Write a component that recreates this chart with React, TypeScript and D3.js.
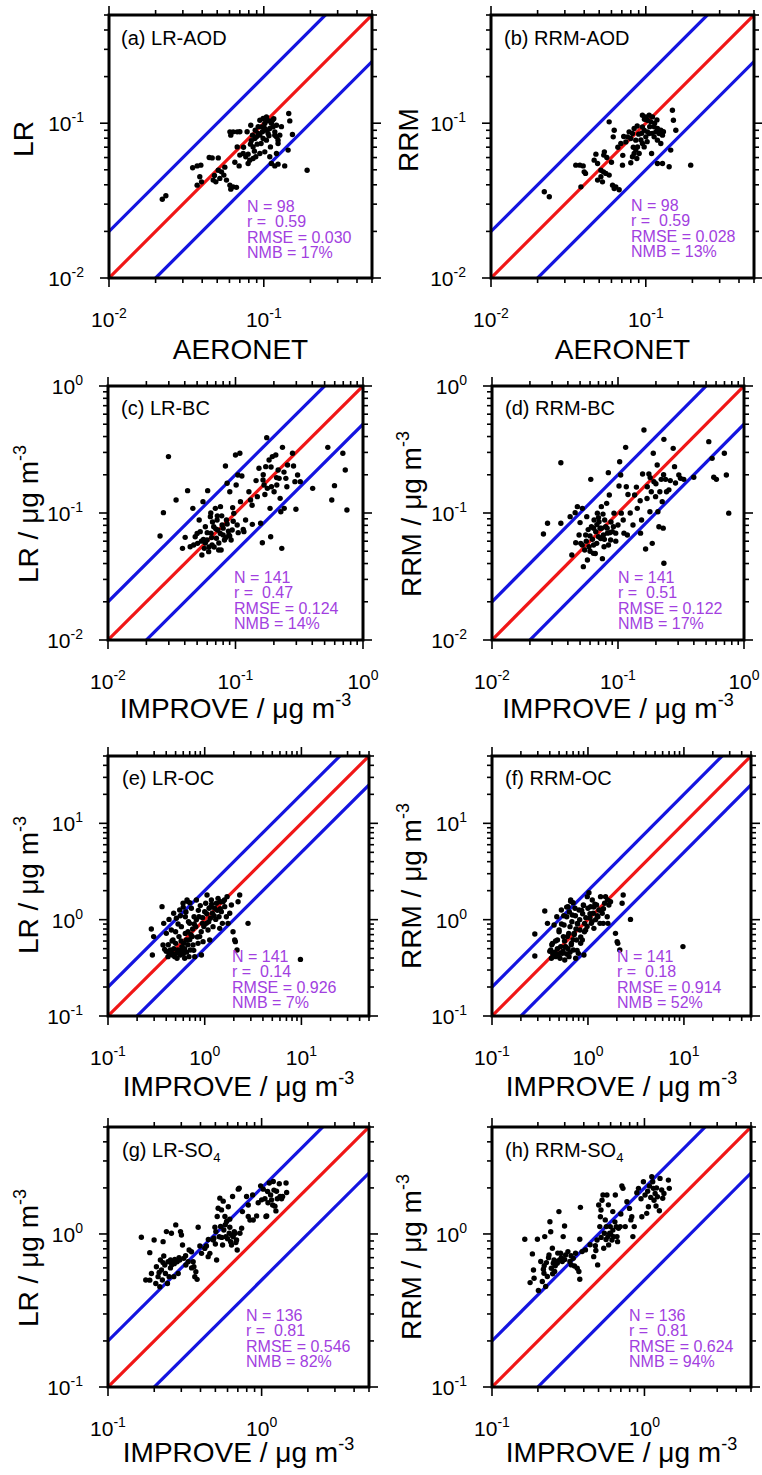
import React from 'react';
import * as d3 from 'd3';

type Pt = [number, number];

// ---------------- DATA ----------------
const ptsA: Pt[] = [
  [0.0221,0.0323],[0.0233,0.034],[0.0347,0.0515],[0.0371,0.053],[0.0392,0.0536],
  [0.0386,0.0451],[0.0396,0.0418],[0.0371,0.0398],[0.0444,0.06],[0.0464,0.0597],[0.0508,0.0597],
  [0.0471,0.0429],[0.049,0.0418],[0.052,0.044],[0.0508,0.0497],[0.0533,0.0485],[0.0552,0.0462],[0.0574,0.0429],
  [0.0604,0.0398],[0.0634,0.0388],[0.0666,0.0385],[0.0612,0.0375],
  [0.0604,0.0879],[0.0634,0.0879],[0.0673,0.0879],[0.0612,0.0837],[0.0673,0.0703],
  [0.07,0.0622],[0.0736,0.0637],[0.0765,0.0607],[0.0792,0.0631],[0.0693,0.053],
  [0.0824,0.097],[0.082,0.0732],[0.0853,0.0703],[0.0845,0.0837],[0.0875,0.0796],[0.0897,0.0816],[0.0919,0.0858],
  [0.0812,0.0577],[0.0792,0.0549],[0.0853,0.0592],[0.0888,0.0607],[0.0906,0.0732],
  [0.0943,0.1045],[0.099,0.1072],[0.104,0.1098],[0.1015,0.0995],[0.0966,0.0947],[0.104,0.0901],[0.1093,0.0924],
  [0.1066,0.0858],[0.1149,0.0947],[0.1178,0.0879],[0.1207,0.097],[0.1138,0.1045],[0.1066,0.1035],
  [0.0943,0.0837],[0.099,0.0796],[0.104,0.0777],[0.1104,0.0703],[0.1015,0.0653],[0.0943,0.0637],
  [0.1178,0.0837],[0.1207,0.0816],[0.1236,0.0777],[0.1268,0.0837],
  [0.1093,0.0607],[0.1119,0.0549],[0.1178,0.053],[0.1236,0.0544],[0.1365,0.053],
  [0.1207,0.0637],[0.1236,0.0739],[0.1449,0.1154],[0.1472,0.1035],[0.1531,0.0845],[0.1436,0.067],
  [0.1905,0.0497],
  [0.098,0.088],[0.101,0.093],[0.112,0.1],[0.088,0.09],[0.092,0.095],[0.108,0.083],[0.096,0.074],
  [0.087,0.066],[0.074,0.07],[0.065,0.056],[0.056,0.052],[0.083,0.077],[0.116,0.107],[0.105,0.105],
  [0.078,0.088],[0.07,0.088],[0.13,0.095],[0.048,0.046],
];

const ptsB: Pt[] = [
  [0.0221,0.0361],[0.0238,0.0335],[0.0353,0.0536],[0.0375,0.0536],[0.0394,0.053],
  [0.04,0.0485],[0.0408,0.0474],[0.0381,0.0388],[0.0464,0.0577],[0.0476,0.0631],[0.0488,0.0549],
  [0.0513,0.0497],[0.0533,0.0485],[0.0552,0.0474],[0.0513,0.0451],[0.0488,0.0429],[0.0525,0.0418],[0.058,0.0462],
  [0.0535,0.0622],[0.054,0.0653],[0.0625,0.0901],[0.0616,0.0816],[0.058,0.102],[0.0707,0.0536],
  [0.061,0.0398],[0.064,0.0388],[0.0673,0.0372],[0.0625,0.0378],[0.069,0.0739],[0.0743,0.0757],
  [0.078,0.0879],[0.082,0.0858],[0.0841,0.0924],[0.0762,0.0816],[0.08,0.0796],[0.0862,0.0777],
  [0.082,0.0607],[0.0841,0.0637],[0.0862,0.067],[0.0884,0.0703],[0.0906,0.0637],[0.0875,0.0592],[0.08,0.0555],
  [0.0951,0.0947],[0.0976,0.0901],[0.1025,0.0879],[0.1,0.0816],[0.1051,0.0858],[0.0951,0.0739],[0.0976,0.0703],
  [0.0951,0.1126],[0.1,0.1098],[0.1051,0.1126],[0.1104,0.1098],[0.1025,0.1045],[0.1077,0.102],
  [0.1132,0.0947],[0.1161,0.0879],[0.1189,0.0924],[0.1219,0.0858],[0.125,0.0901],[0.1132,0.0816],
  [0.1189,0.0777],[0.125,0.0739],[0.1282,0.0837],[0.109,0.0637],
  [0.1189,0.0549],[0.1282,0.0549],[0.1415,0.0523],
  [0.1486,0.1213],[0.1508,0.1045],[0.1563,0.0901],[0.1449,0.067],[0.195,0.0536],
  [0.09,0.085],[0.093,0.078],[0.106,0.095],[0.11,0.086],[0.088,0.096],[0.072,0.082],[0.066,0.07],
  [0.06,0.056],[0.056,0.06],[0.114,0.1],[0.098,0.106],[0.102,0.076],[0.118,0.105],[0.083,0.07],
  [0.071,0.062],[0.094,0.086],[0.13,0.088],
];

const ptsC: Pt[] = [
  [0.0256,0.0659],[0.0272,0.1006],[0.0298,0.278],[0.0342,0.1265],[0.0384,0.0527],[0.0403,0.0643],
  [0.0421,0.15],[0.0441,0.0543],[0.0463,0.1088],[0.0483,0.0651],[0.0504,0.0577],[0.0519,0.0881],
  [0.0529,0.0713],[0.0545,0.0467],[0.0556,0.1228],[0.0569,0.0527],[0.058,0.078],[0.0605,0.15],
  [0.0598,0.0613],[0.0616,0.0496],[0.0635,0.0936],[0.0643,0.0692],[0.0655,0.056],[0.0675,0.078],
  [0.0695,0.1088],[0.0708,0.0632],[0.0717,0.0881],[0.0726,0.0735],[0.0738,0.0511],[0.0762,0.1122],
  [0.0771,0.0511],[0.0785,0.0805],[0.08,0.0671],[0.0819,0.0613],[0.0834,0.2344],[0.0849,0.0881],
  [0.0859,0.1713],[0.0886,0.0671],[0.0902,0.1472],[0.0924,0.0613],[0.0942,0.0735],[0.097,0.0994],
  [0.1,0.2864],[0.1012,0.166],[0.1031,0.0805],[0.1043,0.199],[0.1082,0.2951],[0.1094,0.1228],
  [0.1122,0.1955],[0.115,0.0743],[0.1164,0.0713],[0.1274,0.1472],[0.1313,0.1265],[0.1355,0.0814],
  [0.1483,0.1345],[0.1528,0.2248],[0.1574,0.083],[0.1624,0.0583],[0.1644,0.182],[0.1675,0.166],
  [0.1726,0.2317],[0.1757,0.392],[0.1778,0.1563],[0.1834,0.2612],[0.1866,0.1088],[0.1888,0.0651],
  [0.1914,0.161],[0.1946,0.278],[0.2007,0.1472],[0.207,0.2864],[0.2108,0.166],[0.216,0.2181],
  [0.2199,0.1875],[0.2239,0.1304],[0.2267,0.1024],[0.2307,0.0527],[0.2335,0.3289],[0.241,0.1088],
  [0.2483,0.1875],[0.2529,0.161],[0.2559,0.2388],[0.28,0.2951],[0.2852,0.2344],[0.2924,0.1766],
  [0.2978,0.107],[0.3069,0.199],[0.3221,0.1766],[0.403,0.1563],[0.5297,0.3289],[0.569,0.1265],
  [0.5977,0.1642],[0.695,0.2951],[0.726,0.2181],[0.748,0.1056],
  [0.056,0.062],[0.06,0.07],[0.065,0.064],[0.07,0.075],[0.074,0.058],[0.076,0.069],[0.08,0.076],
  [0.084,0.064],[0.088,0.072],[0.062,0.054],[0.058,0.058],[0.068,0.054],[0.072,0.095],[0.066,0.085],
  [0.078,0.095],[0.086,0.082],[0.054,0.06],[0.05,0.069],[0.047,0.056],[0.09,0.066],[0.105,0.07],
  [0.096,0.086],[0.12,0.088],[0.145,0.18],[0.17,0.14],[0.21,0.19],[0.24,0.21],[0.19,0.23],
  [0.165,0.2],[0.135,0.115],[0.064,0.1],[0.095,0.11],
];

const ptsD: Pt[] = [
  [0.0256,0.0683],[0.0276,0.083],[0.0352,0.083],[0.0352,0.249],[0.0417,0.0936],[0.043,0.0467],
  [0.0457,0.1006],[0.0462,0.0583],[0.0476,0.1122],[0.0491,0.0671],[0.0506,0.0577],[0.0521,0.1088],
  [0.0531,0.0378],[0.0544,0.0511],[0.0554,0.0671],[0.0565,0.0936],[0.0572,0.0427],[0.0589,0.0543],
  [0.0608,0.1841],[0.0615,0.078],[0.0627,0.062],[0.0638,0.0481],[0.0646,0.0881],[0.0666,0.0713],
  [0.0678,0.0577],[0.0686,0.0997],[0.0707,0.0853],[0.072,0.076],[0.0729,0.063],[0.0738,0.1122],
  [0.0752,0.0437],[0.0766,0.0671],[0.0775,0.0543],[0.0784,0.0881],[0.0798,0.078],[0.0813,0.1191],
  [0.0824,0.0694],[0.0838,0.2078],[0.0853,0.1386],[0.0874,0.0613],[0.0902,0.0713],[0.0929,0.0997],
  [0.0959,0.0694],[0.1,0.0805],[0.1019,0.163],[0.1031,0.2535],[0.105,0.199],[0.1062,0.0997],
  [0.1115,0.0694],[0.115,0.3289],[0.1164,0.161],[0.1186,0.0671],[0.1315,0.0805],[0.1355,0.1386],
  [0.1422,0.1088],[0.151,0.0694],[0.1538,0.0881],[0.1567,0.2028],[0.1607,0.4505],[0.1656,0.0521],
  [0.1707,0.161],[0.1759,0.2028],[0.1792,0.1024],[0.1837,0.1472],[0.187,0.0577],[0.1905,0.2951],
  [0.1928,0.1766],[0.1987,0.1345],[0.2047,0.2388],[0.2073,0.1024],[0.2112,0.078],[0.2149,0.1472],
  [0.2203,0.1841],[0.2244,0.1228],[0.2285,0.076],[0.2313,0.38],[0.2313,0.0402],[0.2384,0.1841],
  [0.2427,0.1472],[0.2535,0.1522],[0.2742,0.3228],[0.281,0.2317],[0.286,0.1725],[0.3039,0.199],
  [0.3133,0.1875],[0.3327,0.1841],[0.3996,0.1913],[0.5253,0.3646],[0.5585,0.2693],[0.5754,0.1913],
  [0.6039,0.1841],[0.6982,0.2951],[0.7244,0.199],[0.7568,0.0997],
  [0.056,0.06],[0.06,0.066],[0.064,0.056],[0.07,0.065],[0.074,0.076],[0.078,0.062],[0.082,0.076],
  [0.086,0.07],[0.06,0.05],[0.066,0.048],[0.07,0.092],[0.076,0.098],[0.088,0.085],[0.052,0.056],
  [0.058,0.074],[0.068,0.081],[0.096,0.06],[0.11,0.088],[0.14,0.16],[0.17,0.13],[0.2,0.17],
  [0.18,0.19],[0.23,0.2],[0.125,0.1],[0.092,0.078],[0.05,0.084],[0.15,0.125],[0.26,0.18],
  [0.12,0.14],[0.064,0.076],[0.084,0.056],
];

const ptsE: Pt[] = [
  [0.2805,0.8],[0.2877,0.43],[0.2965,0.667],[0.362,1.365],[0.3707,0.546],[0.3767,0.916],[0.3855,0.492],
  [0.401,0.721],[0.4178,0.413],[0.4276,1.007],[0.4416,0.484],[0.4519,0.781],[0.4634,0.43],[0.47,0.615],
  [0.4775,1.164],[0.4898,0.413],[0.5012,0.568],[0.5093,1.033],[0.5175,0.397],[0.5297,0.484],[0.542,0.667],
  [0.5512,1.26],[0.56,0.43],[0.574,0.846],[0.5875,0.484],[0.5971,1.478],[0.6067,0.568],[0.6209,0.397],
  [0.631,1.074],[0.6457,0.615],[0.6562,1.6],[0.6722,0.75],[0.6879,0.413],[0.6992,0.916],[0.7106,0.484],
  [0.7277,1.312],[0.7447,0.667],[0.757,0.546],[0.7762,1.074],[0.7889,0.413],[0.8073,0.846],[0.8204,1.6],
  [0.8531,0.568],[0.8733,1.074],[0.8875,0.667],[0.9247,0.43],[0.9462,0.916],[0.9616,0.591],[1.0,1.211],
  [1.024,1.478],[1.04,0.916],[1.057,1.803],[1.082,0.781],[1.109,1.312],[1.127,0.615],[1.145,1.033],
  [1.172,1.6],[1.2,1.164],[1.219,0.846],[1.268,1.312],[1.3,1.007],[1.321,1.478],[1.374,1.665],
  [1.406,1.074],[1.429,0.813],[1.452,1.537],[1.486,1.211],[1.523,0.916],[1.548,1.537],[1.61,1.365],
  [1.675,1.074],[1.702,1.733],[1.742,0.916],[1.815,1.164],[1.888,1.419],[1.963,0.75],[2.042,0.615],
  [2.075,0.591],[2.159,0.484],[2.213,1.537],[2.301,1.803],[2.806,0.916],[9.77,0.387],
  [0.45,0.46],[0.48,0.44],[0.52,0.45],[0.55,0.47],[0.58,0.52],[0.6,0.44],[0.62,0.5],[0.65,0.46],
  [0.67,0.55],[0.7,0.62],[0.72,0.7],[0.75,0.8],[0.68,0.95],[0.64,1.2],[0.6,1.35],[0.56,1.1],
  [0.53,0.9],[0.5,0.75],[0.46,0.6],[0.42,0.55],[0.78,0.9],[0.82,1.0],[0.86,1.25],[0.9,1.4],
  [0.95,1.05],[1.05,1.15],[1.1,0.95],[1.15,1.35],[1.25,1.1],[1.35,1.25],[0.92,0.75],[0.84,0.66],
  [0.7,1.5],[0.66,1.55],[0.48,0.5],[0.43,0.44],[0.57,0.6],[0.63,0.72],[0.77,0.48],[0.98,0.85],
  [1.18,1.45],[1.45,1.3],[1.6,1.6],[0.4,0.47],
];

const ptsF: Pt[] = [
  [0.2794,0.709],[0.2794,0.42],[0.3548,1.23],[0.3784,0.916],[0.4093,0.484],[0.416,0.397],[0.4266,0.568],
  [0.4436,0.881],[0.4613,0.413],[0.4732,1.074],[0.4809,0.615],[0.4887,0.43],[0.5,0.781],[0.5117,0.397],
  [0.52,0.525],[0.5284,1.26],[0.5417,0.447],[0.5546,0.667],[0.5636,0.881],[0.5728,0.381],[0.5861,0.525],
  [0.6012,1.074],[0.6095,0.667],[0.6194,1.365],[0.6353,0.413],[0.6501,0.846],[0.6607,1.6],[0.6714,0.568],
  [0.687,1.117],[0.7047,0.484],[0.7161,0.721],[0.7328,1.312],[0.7447,0.397],[0.7621,0.615],[0.7745,0.916],
  [0.7937,0.447],[0.8073,1.26],[0.826,0.781],[0.8395,0.568],[0.8733,0.615],[0.8954,1.419],[0.9078,0.43],
  [0.9226,0.916],[0.9462,0.781],[0.984,1.733],[1.0,1.312],[1.024,1.905],[1.05,1.04],[1.066,1.365],
  [1.083,0.916],[1.109,1.6],[1.135,1.164],[1.153,0.813],[1.202,1.0],[1.23,1.419],[1.27,1.074],
  [1.3,1.26],[1.334,0.916],[1.353,1.733],[1.409,1.164],[1.443,0.916],[1.49,1.478],[1.525,1.733],
  [1.588,1.074],[1.614,0.916],[1.652,1.419],[1.718,1.537],[1.936,0.721],[2.014,0.591],[2.046,0.568],
  [2.146,0.484],[2.27,1.478],[2.328,1.803],[2.774,1.007],[9.77,0.525],
  [0.45,0.46],[0.48,0.44],[0.52,0.45],[0.55,0.47],[0.58,0.52],[0.6,0.44],[0.62,0.5],[0.65,0.46],
  [0.67,0.55],[0.7,0.62],[0.72,0.7],[0.75,0.8],[0.68,0.95],[0.64,1.2],[0.6,1.35],[0.56,1.1],
  [0.53,0.9],[0.5,0.75],[0.46,0.6],[0.42,0.55],[0.78,0.9],[0.82,1.0],[0.86,1.25],[0.9,1.4],
  [0.95,1.05],[1.05,1.15],[1.1,0.95],[1.15,1.35],[1.25,1.1],[1.35,1.25],[0.92,0.75],[0.84,0.66],
  [0.7,1.5],[0.66,1.55],[0.48,0.5],[0.43,0.44],[0.57,0.6],[0.63,0.72],[0.77,0.48],[0.98,0.85],
  [1.18,1.45],[1.45,1.3],[1.6,1.6],[0.4,0.47],[0.74,1.1],[0.88,1.15],
];

const ptsG: Pt[] = [
  [0.1649,0.951],[0.1761,0.5],[0.187,0.755],[0.187,0.499],[0.1918,0.552],[0.1996,0.914],[0.2047,0.475],
  [0.2066,0.611],[0.2118,0.526],[0.2173,0.452],[0.2193,0.676],[0.2228,0.581],[0.2259,0.5],[0.2284,0.891],
  [0.2307,0.718],[0.2343,0.627],[0.2365,0.552],[0.24,1.036],[0.2438,0.475],[0.2461,0.659],[0.25,0.526],
  [0.2553,0.676],[0.2588,1.01],[0.263,0.659],[0.268,0.526],[0.2723,0.682],[0.2761,1.146],[0.2818,0.659],
  [0.2864,0.552],[0.2931,0.676],[0.2965,1.036],[0.3006,0.985],[0.3055,0.847],[0.3112,0.693],[0.3213,0.627],
  [0.3327,0.659],[0.3373,0.785],[0.3493,0.766],[0.3583,0.659],[0.3624,0.611],[0.3673,0.526],[0.3731,0.566],
  [0.3802,0.505],[0.3864,1.106],[0.3963,0.834],[0.4064,0.747],[0.4266,0.805],[0.4375,0.834],[0.4487,0.711],
  [0.4603,0.747],[0.4842,0.914],[0.4887,0.937],[0.4966,1.106],[0.5035,1.036],[0.5093,0.676],[0.514,1.3],
  [0.5212,1.472],[0.5297,0.96],[0.5346,1.714],[0.5408,1.118],[0.5483,1.436],[0.557,0.847],[0.5623,1.638],
  [0.5675,1.062],[0.5768,1.3],[0.5848,0.96],[0.5916,1.205],[0.6067,1.505],[0.6152,1.01],[0.6209,1.106],
  [0.6281,0.891],[0.6368,0.847],[0.6471,1.756],[0.6531,0.96],[0.6637,1.036],[0.673,1.01],[0.6871,0.914],
  [0.6935,0.785],[0.7047,1.963],[0.7145,1.991],[0.7228,1.01],[0.7413,1.089],[0.798,1.756],[0.8185,1.545],
  [0.8185,1.3],[0.8395,1.235],[0.8738,1.8],[0.8831,1.235],[0.9271,1.312],[0.9854,2.063],[1.0,1.671],
  [1.025,1.963],[1.051,1.7],[1.067,1.3],[1.079,1.312],[1.094,1.893],[1.122,2.151],[1.145,1.8],
  [1.161,1.671],[1.18,1.545],[1.191,2.2],[1.203,1.935],[1.221,1.52],[1.239,1.415],[1.265,1.7],
  [1.303,2.13],[1.318,1.756],[1.349,1.7],[1.37,1.756],[1.442,2.151],[1.455,1.865],
  [0.215,0.56],[0.228,0.65],[0.255,0.6],[0.27,0.64],[0.29,0.7],[0.32,0.72],[0.35,0.6],[0.55,0.95],
  [0.6,0.93],[0.64,0.98],[0.68,0.88],[0.58,1.15],[0.62,1.25],[0.75,1.4],[0.95,1.6],[1.1,1.6],
  [1.25,1.9],[0.5,0.86],[0.45,0.92],[0.26,0.63],
];

const ptsH: Pt[] = [
  [0.1641,0.923],[0.1778,0.481],[0.1841,0.741],[0.1871,0.582],[0.1888,0.514],[0.1986,0.923],[0.2016,0.427],
  [0.2089,0.661],[0.2138,0.489],[0.2173,0.589],[0.2193,0.554],[0.2218,0.961],[0.2249,0.454],[0.2275,0.65],
  [0.2307,0.527],[0.2366,0.729],[0.2399,1.203],[0.2427,1.035],[0.2449,0.597],[0.2489,0.807],[0.2524,0.644],
  [0.2553,0.676],[0.2576,0.568],[0.2612,0.661],[0.268,0.644],[0.2748,1.4],[0.2773,0.676],[0.2818,0.748],
  [0.289,0.661],[0.2931,0.961],[0.2992,1.127],[0.3041,0.729],[0.3148,0.767],[0.3243,0.661],[0.3311,0.628],
  [0.3412,0.693],[0.3475,0.618],[0.3532,0.748],[0.3622,0.597],[0.3715,0.568],[0.3767,0.923],[0.3767,0.506],
  [0.3802,1.493],[0.39,0.767],[0.4102,0.787],[0.4648,0.711],[0.4764,0.837],[0.4887,0.914],[0.4932,0.628],
  [0.5012,1.546],[0.5093,1.117],[0.514,1.297],[0.5188,1.434],[0.5272,1.66],[0.5346,1.796],[0.5408,0.807],
  [0.5458,1.01],[0.5534,1.236],[0.5623,1.117],[0.5675,1.796],[0.5768,0.961],[0.5821,0.848],[0.5916,1.01],
  [0.597,1.117],[0.6124,0.914],[0.6209,1.06],[0.6281,0.961],[0.6442,1.796],[0.6531,1.117],[0.6607,0.961],
  [0.6668,0.891],[0.6761,1.089],[0.6935,1.117],[0.7112,2.056],[0.7228,1.986],[0.7482,1.117],[0.7674,1.625],
  [0.798,1.469],[0.8147,1.236],[0.826,1.297],[0.8395,0.961],[0.857,1.117],[0.8913,1.862],[0.9141,1.986],
  [0.9616,1.297],[0.9847,2.193],[1.009,1.796],[1.035,1.364],[1.062,1.507],[1.079,2.056],[1.1,1.734],
  [1.117,2.366],[1.133,2.193],[1.145,1.986],[1.156,1.66],[1.175,1.841],[1.191,1.523],[1.216,1.752],
  [1.253,1.419],[1.265,2.307],[1.297,1.936],[1.318,1.71],[1.343,1.841],[1.436,2.249],[1.455,1.986],
  [0.22,0.62],[0.235,0.7],[0.26,0.62],[0.285,0.7],[0.3,0.68],[0.33,0.72],[0.52,0.95],[0.56,0.92],
  [0.6,1.0],[0.64,1.2],[0.7,1.35],[0.58,1.55],[0.62,1.4],[0.95,1.7],[1.2,2.0],[1.05,1.9],
  [0.48,0.78],[0.44,0.85],[0.25,0.55],[0.27,0.75],
];

const statsA = ['N = 98', 'r =  0.59', 'RMSE = 0.030', 'NMB = 17%'];
const statsB = ['N = 98', 'r =  0.59', 'RMSE = 0.028', 'NMB = 13%'];
const statsC = ['N = 141', 'r =  0.47', 'RMSE = 0.124', 'NMB = 14%'];
const statsD = ['N = 141', 'r =  0.51', 'RMSE = 0.122', 'NMB = 17%'];
const statsE = ['N = 141', 'r =  0.14', 'RMSE = 0.926', 'NMB = 7%'];
const statsF = ['N = 141', 'r =  0.18', 'RMSE = 0.914', 'NMB = 52%'];
const statsG = ['N = 136', 'r =  0.81', 'RMSE = 0.546', 'NMB = 82%'];
const statsH = ['N = 136', 'r =  0.81', 'RMSE = 0.624', 'NMB = 94%'];

const domainAOD: [number, number] = [0.01, 0.5];
const domainBC: [number, number] = [0.01, 1];
const domainOC: [number, number] = [0.1, 50];
const domainSO4: [number, number] = [0.1, 5];

const ratioFactors = [0.5, 1, 2];

// ---------------- LAYOUT ----------------
const FONT = '"Liberation Sans", Arial, Helvetica, sans-serif';
const PURPLE = '#a23fe0';
const RED = '#f01616';
const BLUE = '#1414e0';
const STAT_DY = 15.4;

interface Cfg {
  tag: string; name: string; sub?: string;
  ylab: string; yUnits: boolean; xlab: string; xUnits: boolean;
  domain: [number, number]; data: Pt[]; stats: string[];
  x0: number; x1: number; y0: number; y1: number;
  statX: number; statY: number;
  labX: number; labY: number;
  yTitleX: number; yTitleCy: number; xTitleY: number;
}

const panels: Cfg[] = [
  { tag: '(a)', name: 'LR-AOD', ylab: 'LR', yUnits: false, xlab: 'AERONET', xUnits: false, domain: domainAOD, data: ptsA, stats: statsA,
    x0: 109, x1: 372, y0: 15, y1: 278, statX: 247, statY: 212, labX: 121, labY: 45, yTitleX: 33, yTitleCy: 139, xTitleY: 359 },
  { tag: '(b)', name: 'RRM-AOD', ylab: 'RRM', yUnits: false, xlab: 'AERONET', xUnits: false, domain: domainAOD, data: ptsB, stats: statsB,
    x0: 491, x1: 754, y0: 15, y1: 278, statX: 631, statY: 211, labX: 504, labY: 45, yTitleX: 418, yTitleCy: 140, xTitleY: 359 },
  { tag: '(c)', name: 'LR-BC', ylab: 'LR', yUnits: true, xlab: 'IMPROVE', xUnits: true, domain: domainBC, data: ptsC, stats: statsC,
    x0: 108, x1: 363, y0: 386, y1: 640, statX: 234, statY: 583, labX: 121, labY: 415, yTitleX: 38, yTitleCy: 514, xTitleY: 718 },
  { tag: '(d)', name: 'RRM-BC', ylab: 'RRM', yUnits: true, xlab: 'IMPROVE', xUnits: true, domain: domainBC, data: ptsD, stats: statsD,
    x0: 492, x1: 744, y0: 386, y1: 640, statX: 618, statY: 583, labX: 505, labY: 415, yTitleX: 421, yTitleCy: 514, xTitleY: 718 },
  { tag: '(e)', name: 'LR-OC', ylab: 'LR', yUnits: true, xlab: 'IMPROVE', xUnits: true, domain: domainOC, data: ptsE, stats: statsE,
    x0: 108, x1: 369, y0: 756, y1: 1016, statX: 232, statY: 962, labX: 122, labY: 785, yTitleX: 38, yTitleCy: 885, xTitleY: 1096 },
  { tag: '(f)', name: 'RRM-OC', ylab: 'RRM', yUnits: true, xlab: 'IMPROVE', xUnits: true, domain: domainOC, data: ptsF, stats: statsF,
    x0: 492, x1: 751, y0: 756, y1: 1016, statX: 617, statY: 962, labX: 505, labY: 785, yTitleX: 421, yTitleCy: 886, xTitleY: 1096 },
  { tag: '(g)', name: 'LR-SO', sub: '4', ylab: 'LR', yUnits: true, xlab: 'IMPROVE', xUnits: true, domain: domainSO4, data: ptsG, stats: statsG,
    x0: 108, x1: 369, y0: 1127, y1: 1387, statX: 246, statY: 1321, labX: 122, labY: 1157, yTitleX: 38, yTitleCy: 1258, xTitleY: 1462 },
  { tag: '(h)', name: 'RRM-SO', sub: '4', ylab: 'RRM', yUnits: true, xlab: 'IMPROVE', xUnits: true, domain: domainSO4, data: ptsH, stats: statsH,
    x0: 492, x1: 751, y0: 1127, y1: 1387, statX: 629, statY: 1321, labX: 505, labY: 1157, yTitleX: 421, yTitleCy: 1257, xTitleY: 1462 },
];

function tickValues(domain: [number, number]) {
  const [lo, hi] = domain;
  const majors: number[] = [];
  const minors: number[] = [];
  for (let e = Math.floor(Math.log10(lo)); e <= Math.ceil(Math.log10(hi)); e++) {
    for (let m = 1; m <= 9; m++) {
      const v = m * Math.pow(10, e);
      if (v >= lo * 0.999 && v <= hi * 1.001) (m === 1 ? majors : minors).push(v);
    }
  }
  return { majors, minors };
}

function Pow10({ v }: { v: number }) {
  const e = Math.round(Math.log10(v));
  return (
    <>
      10<tspan dy={-9} fontSize={14}>{String(e)}</tspan>
    </>
  );
}

function Panel({ c, idx }: { c: Cfg; idx: number }) {
  const x = d3.scaleLog().domain(c.domain).range([c.x0, c.x1]);
  const y = d3.scaleLog().domain(c.domain).range([c.y1, c.y0]);
  const { majors, minors } = tickValues(c.domain);
  const [lo, hi] = c.domain;
  const line = d3.line<Pt>().x((d) => x(d[0])).y((d) => y(d[1]));
  const clipId = `clip-${idx}`;
  const MAJ = 9, MIN = 5;
  const tickLines: any[] = [];
  const addTicks = (vals: number[], len: number, kind: string) => {
    vals.forEach((v, i) => {
      const px = x(v), py = y(v);
      tickLines.push(<line key={`${kind}b${i}`} x1={px} x2={px} y1={c.y1} y2={c.y1 + len} />);
      tickLines.push(<line key={`${kind}t${i}`} x1={px} x2={px} y1={c.y0} y2={c.y0 - len} />);
      tickLines.push(<line key={`${kind}l${i}`} x1={c.x0} x2={c.x0 - len} y1={py} y2={py} />);
      tickLines.push(<line key={`${kind}r${i}`} x1={c.x1} x2={c.x1 + len} y1={py} y2={py} />);
    });
  };
  addTicks(majors, MAJ, 'M');
  addTicks(minors, MIN, 'm');
  const cx = (c.x0 + c.x1) / 2;

  return (
    <g fontFamily={FONT}>
      <defs>
        <clipPath id={clipId}>
          <rect x={c.x0} y={c.y0} width={c.x1 - c.x0} height={c.y1 - c.y0} />
        </clipPath>
      </defs>
      <g clipPath={`url(#${clipId})`} fill="none" strokeWidth={3.2}>
        {ratioFactors.map((k) => (
          <path key={k} d={line([[lo, lo * k], [hi, hi * k]]) || ''} stroke={k === 1 ? RED : BLUE} />
        ))}
      </g>
      <g fill="#000">
        {c.data.map((d, i) => (
          <circle key={i} cx={x(d[0])} cy={y(d[1])} r={2.7} />
        ))}
      </g>
      <g stroke="#000" strokeWidth={1.6}>{tickLines}</g>
      <rect x={c.x0} y={c.y0} width={c.x1 - c.x0} height={c.y1 - c.y0} fill="none" stroke="#000" strokeWidth={3} />
      {/* tick labels */}
      <g fontSize={21} fill="#000">
        {majors.map((v, i) => (
          <text key={`xl${i}`} x={x(v)} y={c.y1 + 49} textAnchor="middle"><Pow10 v={v} /></text>
        ))}
        {majors.map((v, i) => (
          <text key={`yl${i}`} x={c.x0 - 25} y={y(v) + 8} textAnchor="end"><Pow10 v={v} /></text>
        ))}
      </g>
      {/* panel label */}
      <text x={c.labX} y={c.labY} fontSize={20} fill="#000">
        {c.tag} {c.name}
        {c.sub ? <tspan dy={5} fontSize={13}>{c.sub}</tspan> : null}
      </text>
      {/* stats: one multi-line text block */}
      <text x={c.statX} y={c.statY} fontSize={16} fill={PURPLE} xmlSpace="preserve" style={{ whiteSpace: 'pre' }}>
        {c.stats.map((s, i) => (
          <tspan key={i} x={c.statX} y={c.statY + i * STAT_DY}>{s}</tspan>
        ))}
      </text>
      {/* axis titles */}
      <text x={cx} y={c.xTitleY} fontSize={28} textAnchor="middle" fill="#000">
        {c.xUnits ? (
          <>{c.xlab} / μg m<tspan dy={-12} fontSize={18}>-3</tspan></>
        ) : c.xlab}
      </text>
      <text transform={`translate(${c.yTitleX},${c.yTitleCy}) rotate(-90)`} fontSize={28} textAnchor="middle" fill="#000">
        {c.yUnits ? (
          <>{c.ylab} / μg m<tspan dy={-12} fontSize={18}>-3</tspan></>
        ) : c.ylab}
      </text>
    </g>
  );
}

export default function App() {
  return (
    <svg
      width={762}
      height={1475}
      viewBox="0 0 762 1475"
      style={{ position: 'absolute', left: 0, top: 0, display: 'block', background: '#fff' }}
    >
      <rect x={0} y={0} width={762} height={1475} fill="#fff" />
      {panels.map((c, i) => (
        <Panel key={i} c={c} idx={i} />
      ))}
    </svg>
  );
}
